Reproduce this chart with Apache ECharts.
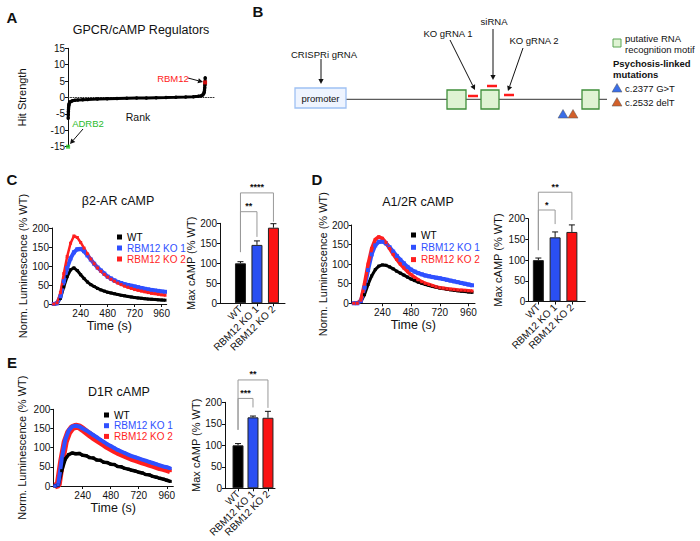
<!DOCTYPE html>
<html><head><meta charset="utf-8">
<script src="https://cdn.jsdelivr.net/npm/echarts@6/dist/echarts.min.js"></script>
<style>html,body{margin:0;padding:0;background:#fff}#c{width:700px;height:541px}</style>
</head><body><div id="c"></div>
<script>
// ---------- DATA ----------
// Panel A: rank plot
const rankA = [2,3,4,5,6,8,10,14,20,30,45,70,100,150,200,300,400,500,600,700,800,900,1000,1100,1200,1280,1330,1360,1375,1385,1390,1393,1395,1397,1398,1399,1400];
const hitA  = [-6.3,-5.2,-4.3,-3.6,-3.1,-2.5,-2.1,-1.7,-1.4,-1.2,-1.0,-0.85,-0.75,-0.65,-0.58,-0.48,-0.4,-0.32,-0.25,-0.18,-0.12,-0.06,0,0.07,0.15,0.25,0.38,0.55,0.8,1.2,1.7,2.3,3.0,3.8,4.3,4.8,6.0];
const adrb2Point = [1, -15];
const rbm12Point = [1399, 4.6];

// Time courses (s)
const timeS = [0,30,60,90,120,150,180,210,240,270,300,330,360,390,420,450,480,510,540,570,600,630,660,690,720,750,780,810,840,870,900,930,960,990];
const cWT  = [0,1,15,45,72,90,95,88,77,67,58,51,46,41,37,34,31,29,27,25,23,21.5,20,18.5,17,16,15,14,13,12.5,12,11,10.5,10];
const cKO1 = [0,2,20,60,95,120,136,144,145,139,128,117,106,96,88,80,72,67,62,58,55,52,50,48,46,44,42,40,38.5,37,35.5,34.5,33,32];
const cKO2 = [0,3,30,80,125,160,179,175,162,147,132,118,106,95,86,78,71,65,60,55,51,47,44,41,38,36,34,32,30,28,27,25.5,24,23];
const dWT  = [0,0,4,22,48,70,86,95,98,97,93,88,82,77,72,67,62,58,54,51,48,45.5,43,41,39,37.5,36,34.5,33,32,31,30,29,28];
const dKO1 = [0,0,6,40,85,125,148,157,158,153,143,132,121,111,102,93,86,81,77,74,71,69,67,65.5,64,62,60,58,56,54,52,50,48,46];
const dKO2 = [0,0,8,50,100,140,163,170,166,155,140,125,112,100,90,81,73,66,60,55,51,48,45,42,40,38.5,37,36,35,34,33.5,33,32,31.5];
const eWT  = [0,2,40,70,82,86,84,85,80,79,74,73,68,67,62,61,57,56,51,50,46,44,41,39,36,34,30,29,25,23,20,18,15,12];
const eKO1 = [0,3,70,120,145,155,157,155,150,145,139,133,127,121,115,109,104,99,94,90,86,82,78,75,72,69,66,63,60,57,54,51,49,46];
const eKO2 = [0,3,65,115,140,152,156,154,148,141,134,127,121,115,109,103,98,93,88,84,80,76,72,69,66,63,60,57,54,51,48,46,43,40];

// Max cAMP bars
const groups = ['WT','RBM12 KO 1','RBM12 KO 2'];
const cMax = [100,146,189], cErr = [4,10,10];
const dMax = [100,155,168], dErr = [5,13,17];
const eMax = [100,165,164], eErr = [4,3,15];

// Significance: [fromGroup, toGroup, level, leg0, leg1]
const cSig = [[0,1,229,128,166],[0,2,276,128,204]], cSigTxt = ['**','****'];
const dSig = [[0,1,221,124,187],[0,2,264,124,197]], dSigTxt = ['*','**'];
const eSig = [[0,1,209,136,188],[0,2,252,136,187]], eSigTxt = ['***','**'];

// ---------- RENDER ----------
const F = 'Arial, "Liberation Sans", sans-serif';
const BLUE = '#2f50ff', RED = '#ff1f1f', BLACK = '#000';
const barColors = ['#000000','#2a4ff2','#fa1212'];

function xA(gi, o){ return Object.assign({gridIndex:gi, type:'value',
  axisLine:{show:true,onZero:false,lineStyle:{color:'#111',width:1}},
  axisTick:{show:true,length:3,lineStyle:{color:'#111'}},
  axisLabel:{fontSize:10,color:'#111',fontFamily:F,margin:3},
  splitLine:{show:false},
  nameTextStyle:{fontSize:12.5,color:'#111',fontFamily:F}}, o); }
function yA(gi, o){ return Object.assign({gridIndex:gi, type:'value',
  axisLine:{show:true,onZero:false,lineStyle:{color:'#111',width:1}},
  axisTick:{show:true,length:3,lineStyle:{color:'#111'}},
  axisLabel:{fontSize:10,color:'#111',fontFamily:F,margin:3},
  splitLine:{show:false}, nameLocation:'middle', nameRotate:90,
  nameTextStyle:{fontSize:11,color:'#111',fontFamily:F}}, o); }

const grids = [
  {left:68, top:48.3, width:147, height:98.4},     // A
  {left:52, top:228, width:114.7, height:76},      // C line
  {left:220, top:223.3, width:65, height:80},      // C bar
  {left:351.7, top:225, width:123.3, height:78.3}, // D line
  {left:528.3, top:218.7, width:57, height:82.8},  // D bar
  {left:53.3, top:409.3, width:120, height:76.7},  // E line
  {left:225, top:402.3, width:50, height:86}       // E bar
];
const tickT = [240,480,720,960];
const lineX = (gi,min,max)=>xA(gi,{min,max,name:'Time (s)',nameLocation:'middle',nameGap:15,
  axisLabel:{fontSize:10,color:'#111',fontFamily:F,margin:4,customValues:tickT},
  axisTick:{show:true,length:3,lineStyle:{color:'#111'},customValues:tickT}});
const lineY = (gi,gap)=>yA(gi,{min:0,max:200,interval:50,name:'Norm. Luminescence (% WT)',nameGap:gap});
const barX = (gi,min,max)=>xA(gi,{min,max,
  axisLabel:{fontSize:10,color:'#111',fontFamily:F,margin:4,rotate:45,customValues:[0,1,2],formatter:v=>groups[Math.round(v)]},
  axisTick:{show:true,length:3,lineStyle:{color:'#111'},customValues:[0,1,2]}});
const barY = (gi,gap)=>yA(gi,{min:0,max:200,interval:50,name:'Max cAMP (% WT)',nameGap:gap});

const xAxes = [
  xA(0,{min:0,max:1500,axisLine:{show:true,onZero:true,lineStyle:{color:'#333',width:1,type:[1,1.5]}},axisTick:{show:false},axisLabel:{show:false}}),
  lineX(1,-15,1005), barX(2,-1.24,2.7), lineX(3,-17,1015), barX(4,-0.6,2.8), lineX(5,-12,1016), barX(6,-0.87,2.47)
];
const yAxes = [
  yA(0,{min:-15,max:15,interval:5,name:'Hit Strength',nameGap:41}),
  lineY(1,21), barY(2,16), lineY(3,21), barY(4,25), lineY(5,26), barY(6,23)
];

function lineS(name, vals, color, gi, width, sym, z){
  return {type:'line', name, xAxisIndex:gi, yAxisIndex:gi, data:timeS.map((t,i)=>[t,vals[i]]),
    symbol:'rect', symbolSize:sym, showSymbol:true, lineStyle:{color,width}, itemStyle:{color}, z:z||2, silent:true};
}
function barS(gi, vals){
  return {type:'bar', xAxisIndex:gi, yAxisIndex:gi, barWidth:11,
    data:vals.map((v,i)=>({value:[i,v], itemStyle:{color:barColors[i], borderColor:'#222', borderWidth:1}})), z:3};
}
function errS(gi, vals, errs){
  return {type:'custom', xAxisIndex:gi, yAxisIndex:gi, z:2,
    data:vals.map((v,i)=>[i,v,errs[i]]),
    renderItem:(p,api)=>{const x=api.value(0),y=api.value(1),e=api.value(2);
      const a=api.coord([x,y]), b=api.coord([x,y+e]);
      return {type:'group',children:[
        {type:'line',shape:{x1:a[0],y1:a[1],x2:b[0],y2:b[1]},style:{stroke:'#111',lineWidth:1}},
        {type:'line',shape:{x1:b[0]-3,y1:b[1],x2:b[0]+3,y2:b[1]},style:{stroke:'#111',lineWidth:1}}]};}};
}
function sigS(gi, sig, txt){
  return {type:'custom', xAxisIndex:gi, yAxisIndex:gi, z:4, clip:false, data:sig,
    renderItem:(p,api)=>{const x0=api.value(0),x1=api.value(1),lv=api.value(2),l0=api.value(3),l1=api.value(4);
      const A=api.coord([x0,l0]),B=api.coord([x0,lv]),C=api.coord([x1,lv]),D=api.coord([x1,l1]);
      return {type:'group',children:[
        {type:'polyline',shape:{points:[A,B,C,D]},style:{stroke:'#999',lineWidth:1,fill:null}},
        {type:'text',x:(B[0]+C[0])/2,y:B[1]-1,style:{text:txt[p.dataIndex],fontSize:9,fontWeight:'bold',fill:'#111',fontFamily:F,align:'center',verticalAlign:'bottom'}}]};}};
}

const series = [
  {type:'line', xAxisIndex:0, yAxisIndex:0, data:rankA.map((r,i)=>[r,hitA[i]]), symbol:'circle', symbolSize:3.5,
   lineStyle:{color:'#000',width:3}, itemStyle:{color:'#000'}, z:2},
  {type:'scatter', xAxisIndex:0, yAxisIndex:0, data:[adrb2Point], symbol:'rect', symbolSize:4, itemStyle:{color:'#22c322'}, z:3},
  {type:'scatter', xAxisIndex:0, yAxisIndex:0, data:[rbm12Point], symbol:'rect', symbolSize:4, itemStyle:{color:'#ff1010'}, z:3},
  // C
  lineS('WT', cWT, BLACK, 1, 3, 3), lineS('RBM12 KO 1', cKO1, BLUE, 1, 4, 4), lineS('RBM12 KO 2', cKO2, RED, 1, 2.5, 3),
  errS(2,cMax,cErr), barS(2,cMax), sigS(2,cSig,cSigTxt),
  // D
  lineS('WT', dWT, BLACK, 3, 3, 3), lineS('RBM12 KO 1', dKO1, BLUE, 3, 4, 4), lineS('RBM12 KO 2', dKO2, RED, 3, 3.5, 3),
  errS(4,dMax,dErr), barS(4,dMax), sigS(4,dSig,dSigTxt),
  // E
  lineS('RBM12 KO 2', eKO2, RED, 5, 7, 3, 1), lineS('WT', eWT, BLACK, 5, 3.5, 3), lineS('RBM12 KO 1', eKO1, BLUE, 5, 4, 3)
  ,errS(6,eMax,eErr), barS(6,eMax), sigS(6,eSig,eSigTxt)
];

const legItems = [{name:'WT',textStyle:{color:'#000'}},{name:'RBM12 KO 1',textStyle:{color:BLUE}},{name:'RBM12 KO 2',textStyle:{color:RED}}];
const leg = (left,top,gap)=>({orient:'vertical', left, top, itemWidth:5, itemHeight:5, itemGap:gap, icon:'rect', selectedMode:false,
  textStyle:{fontSize:10,fontFamily:F,lineHeight:9}, data:legItems});

// graphic helpers
const T = (x,y,text,o)=>({type:'text',x,y,style:Object.assign({text,fontSize:10,fontFamily:F,fill:'#111',align:'center',verticalAlign:'middle'},o||{}),z:20});
function arrow(x1,y1,x2,y2,color){
  const dx=x2-x1, dy=y2-y1, L=Math.hypot(dx,dy), ux=dx/L, uy=dy/L, h=5, w=2.6;
  const bx=x2-ux*h, by=y2-uy*h;
  return [
    {type:'line',shape:{x1,y1,x2:bx,y2:by},style:{stroke:color||'#111',lineWidth:1},z:10},
    {type:'polygon',shape:{points:[[x2,y2],[bx-uy*w,by+ux*w],[bx+uy*w,by-ux*w]]},style:{fill:color||'#111'},z:10}
  ];
}
const tri = (cx,cy,s,color)=>({type:'polygon',shape:{points:[[cx,cy-s*0.5],[cx-s*0.55,cy+s*0.45],[cx+s*0.55,cy+s*0.45]]},style:{fill:color,stroke:'#555',lineWidth:0.5},z:10});
const gbox = (x1,x2)=>({type:'rect',shape:{x:x1,y:90,width:x2-x1,height:19},style:{fill:'#dff3d3',stroke:'#3f8f3a',lineWidth:1.3},z:11});
const rdash = (x1,x2,y)=>({type:'line',shape:{x1,y1:y,x2,y2:y},style:{stroke:'#ff1a1a',lineWidth:2.5},z:11});

const graphic = [
  T(12,17,'A',{fontSize:15,fontWeight:'bold'}),
  T(258,11,'B',{fontSize:15,fontWeight:'bold'}),
  T(12,179,'C',{fontSize:15,fontWeight:'bold'}),
  T(317,179,'D',{fontSize:15,fontWeight:'bold'}),
  T(12,362,'E',{fontSize:15,fontWeight:'bold'}),
  T(141,30,'GPCR/cAMP Regulators',{fontSize:12.5}),
  T(118,201,'β2-AR cAMP',{fontSize:12.5}),
  T(418,201.5,'A1/2R cAMP',{fontSize:12.5}),
  T(119,391.5,'D1R cAMP',{fontSize:12.5}),
  // A annotations
  T(138,117,'Rank',{fontSize:10.5}),
  T(173,78,'RBM12',{fontSize:9.5,fill:'#ff2020'}),
  ...arrow(188,78,203,82),
  T(88,123,'ADRB2',{fontSize:9.5,fill:'#2cbb2c'}),
  ...arrow(83,129,70,144),
  // B diagram
  {type:'line',shape:{x1:346,y1:99.3,x2:607,y2:99.3},style:{stroke:'#333',lineWidth:1},z:9},
  {type:'rect',shape:{x:295,y:88,width:51,height:20},style:{fill:'#eef4ff',stroke:'#9fc1f3',lineWidth:1.3},z:11},
  T(320.5,98,'promoter',{fontSize:9.5}),
  gbox(447,466), gbox(481,499), gbox(582,599),
  rdash(468,478,96), rdash(487,497,86), rdash(504,514,95),
  T(324,54,'CRISPRi gRNA',{fontSize:9.5}), ...arrow(321,59,321,84),
  T(448,33,'KO gRNA 1',{fontSize:9.5}), ...arrow(450,40,475,90),
  T(494,21,'siRNA',{fontSize:9.5}), ...arrow(493,29,493,80),
  T(534,40,'KO gRNA 2',{fontSize:9.5}), ...arrow(523,48,508,91),
  tri(563,114,9,'#3a6ee8'), tri(573,114,9,'#d2602a'),
  {type:'rect',shape:{x:613,y:39,width:8,height:8},style:{fill:'#dff3d3',stroke:'#5aa552',lineWidth:1},z:10},
  T(625,38,'putative RNA',{fontSize:9.5,align:'left'}),
  T(625,49,'recognition motif',{fontSize:9.5,align:'left'}),
  T(613,63,'Psychosis-linked',{fontSize:9.5,align:'left',fontWeight:'bold'}),
  T(613,74,'mutations',{fontSize:9.5,align:'left',fontWeight:'bold'}),
  tri(617,88,9,'#3a6ee8'), T(625,88,'c.2377 G>T',{fontSize:9.5,align:'left'}),
  tri(617,102,9,'#d2602a'), T(625,102,'c.2532 delT',{fontSize:9.5,align:'left'})
];

const chart = echarts.init(document.getElementById('c'), null, {renderer:'svg', width:700, height:541});
chart.setOption({
  animation:false, backgroundColor:'#fff',
  textStyle:{fontFamily:F},
  grid:grids, xAxis:xAxes, yAxis:yAxes, series,
  legend:[leg(112,227,1), leg(406,225,2.3), leg(99,405,0.7)],
  graphic
});
</script></body></html>
